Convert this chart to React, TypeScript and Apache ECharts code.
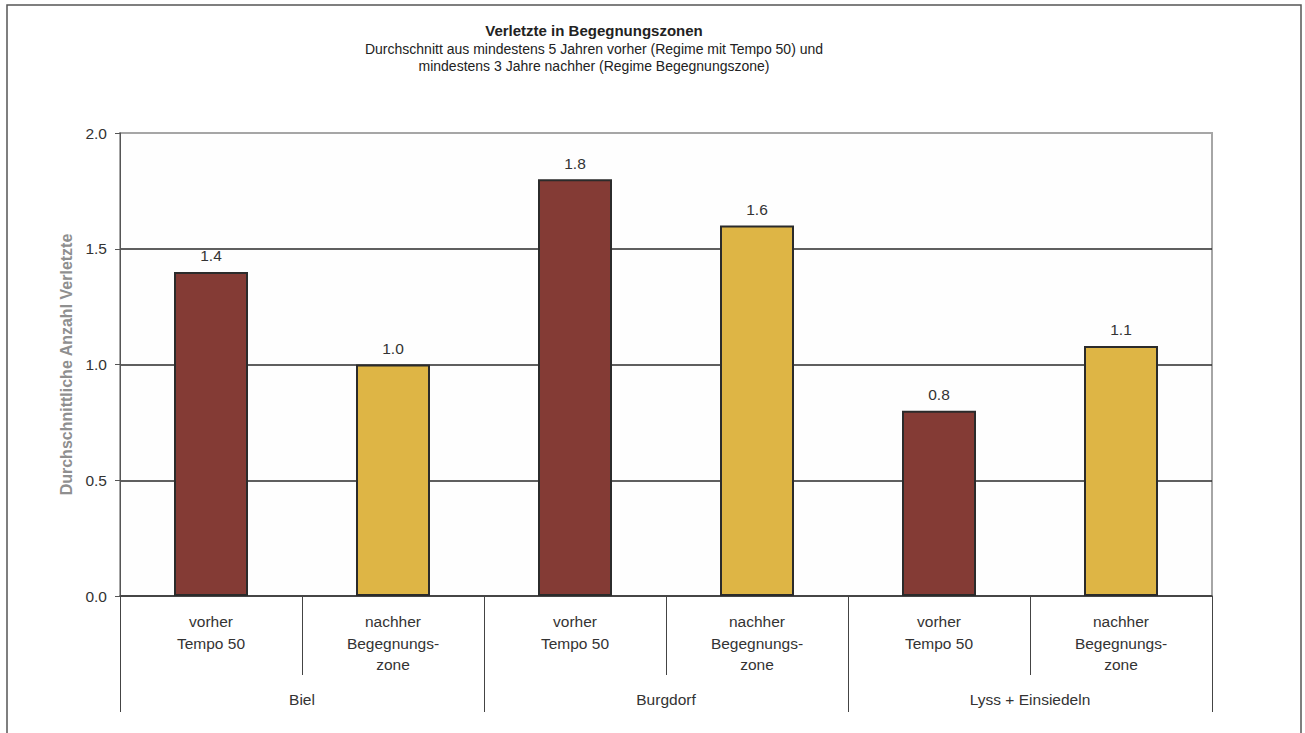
import React, { useEffect, useRef } from "react";
import * as echarts from "echarts";

const titleText = "Verletzte in Begegnungszonen";
const subtitleLines = [
  "Durchschnitt aus mindestens 5 Jahren vorher (Regime mit Tempo 50) und",
  "mindestens 3 Jahre nachher (Regime Begegnungszone)",
];
const yAxisName = "Durchschnittliche Anzahl Verletzte";
const categories = [
  "vorher\nTempo 50",
  "nachher\nBegegnungs-\nzone",
  "vorher\nTempo 50",
  "nachher\nBegegnungs-\nzone",
  "vorher\nTempo 50",
  "nachher\nBegegnungs-\nzone",
];
const groups = ["Biel", "Burgdorf", "Lyss + Einsiedeln"];
const values = [1.4, 1.0, 1.8, 1.6, 0.8, 1.08];
const yTicks = { min: 0, max: 2, interval: 0.5 };

const COLORS = ["#843B35", "#DEB545"];
const FONT = "'Liberation Sans', Arial, Helvetica, sans-serif";

export default function App() {
  const ref = useRef<HTMLDivElement>(null);
  useEffect(() => {
    if (!ref.current) return;
    const chart = echarts.init(ref.current, null, { renderer: "svg" });
    const option: any = {
      animation: false,
      backgroundColor: "#ffffff",
      textStyle: { fontFamily: FONT },
      grid: {
        left: 120,
        top: 133,
        right: 93,
        bottom: 137,
        show: true,
        backgroundColor: "#fefefe",
        borderColor: "#a6a6a6",
        borderWidth: 2,
      },
      graphic: [
        {
          type: "rect",
          shape: { x: 7, y: 5, width: 1294, height: 760 },
          style: { fill: "none", stroke: "#555", lineWidth: 1.5 },
          z: -1,
          silent: true,
        },
        {
          type: "text",
          x: 594,
          y: 30,
          style: {
            text: titleText,
            font: `bold 15px ${FONT}`,
            fill: "#222",
            textAlign: "center",
            textVerticalAlign: "middle",
          },
        },
        ...subtitleLines.map((t, i) => ({
          type: "text",
          x: 594,
          y: 49 + i * 17,
          style: {
            text: t,
            font: `14px ${FONT}`,
            fill: "#222",
            textAlign: "center",
            textVerticalAlign: "middle",
          },
        })),
      ],
      xAxis: [
        {
          type: "category",
          data: categories,
          position: "bottom",
          axisLine: { show: true, lineStyle: { color: "#444", width: 1.5 } },
          axisTick: {
            show: true,
            interval: 0,
            alignWithLabel: false,
            length: 79,
            lineStyle: { color: "#444", width: 1 },
          },
          axisLabel: {
            interval: 0,
            margin: 15,
            fontSize: 15.5,
            lineHeight: 21.5,
            color: "#333",
            fontFamily: FONT,
          },
          splitLine: { show: false },
        },
        {
          type: "category",
          data: groups,
          position: "bottom",
          axisLine: { show: false },
          axisTick: {
            show: true,
            interval: 0,
            alignWithLabel: false,
            length: 116,
            lineStyle: { color: "#444", width: 1 },
          },
          axisLabel: {
            interval: 0,
            margin: 95,
            fontSize: 15.5,
            color: "#333",
            fontFamily: FONT,
          },
          splitLine: { show: false },
        },
      ],
      yAxis: {
        type: "value",
        min: yTicks.min,
        max: yTicks.max,
        interval: yTicks.interval,
        name: yAxisName,
        nameLocation: "middle",
        nameRotate: 90,
        nameGap: 43,
        nameTextStyle: {
          fontSize: 16,
          fontWeight: "bold",
          color: "#8f8f8f",
          fontFamily: FONT,
        },
        axisLine: { show: true, lineStyle: { color: "#555", width: 1 } },
        axisTick: { show: true, length: 5, lineStyle: { color: "#555" } },
        axisLabel: {
          margin: 13,
          fontSize: 15.5,
          color: "#333",
          fontFamily: FONT,
          formatter: (v: number) => v.toFixed(1),
        },
        splitLine: {
          show: true,
          lineStyle: {
            color: ["#2a2a2a", "#2a2a2a", "#2a2a2a", "#2a2a2a", "#a6a6a6"],
            width: 1.5,
          },
        },
      },
      series: [
        {
          type: "bar",
          xAxisIndex: 0,
          barWidth: 74,
          data: values.map((v, i) => ({
            value: v,
            itemStyle: {
              color: COLORS[i % 2],
              borderColor: "#2b2b2b",
              borderWidth: 2,
            },
          })),
          label: {
            show: true,
            position: "top",
            distance: 8,
            fontSize: 15.5,
            color: "#333",
            fontFamily: FONT,
            formatter: (p: any) => Number(p.value).toFixed(1),
          },
        },
      ],
    };
    chart.setOption(option);
    return () => chart.dispose();
  }, []);
  return (
    <div
      ref={ref}
      style={{ position: "absolute", left: 0, top: 0, width: 1305, height: 733 }}
    />
  );
}
